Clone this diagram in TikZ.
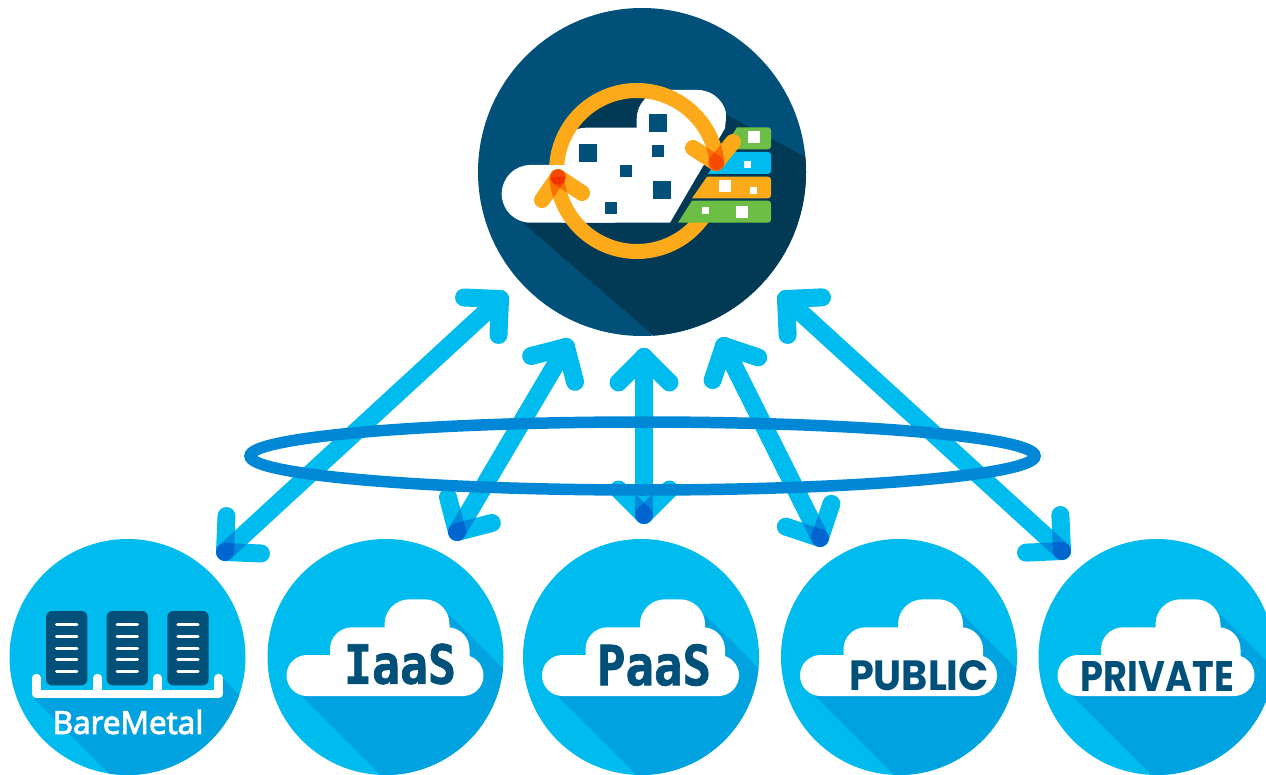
\documentclass[tikz,border=0pt]{standalone}
\usepackage{fontspec}
\usepackage{graphicx}
\setmainfont{Open Sans}
\newfontfamily\slabfont[BoldFeatures={FakeBold=1.5}]{DejaVu Sans Mono}
\newfontfamily\capsfont{Poppins}
\newfontfamily\barefont[FakeBold=3]{Open Sans}
\usetikzlibrary{calc}

\definecolor{hubnavy}{HTML}{00507A}
\definecolor{hubshade}{HTML}{023A56}
\definecolor{discblue}{HTML}{00BCEE}
\definecolor{discshade}{HTML}{00A2E0}
\definecolor{ovalblue}{HTML}{0088D6}
\definecolor{ringamber}{HTML}{FCA91A}
\definecolor{stackgreen}{HTML}{6DBE45}

\tikzset{
  hubdisc/.style={circle,fill=hubnavy,inner sep=0pt,minimum size=328pt},
  sidedisc/.style={circle,fill=discblue,inner sep=0pt,minimum size=236pt},
  linkline/.style={draw=discblue,line width=18pt,line cap=round},
  ringline/.style={draw=ringamber,line width=15pt,blend mode=multiply},
  ringbarb/.style={draw=ringamber,line width=16pt,line cap=round,blend mode=multiply},
  iconword/.style={inner sep=0pt,text=hubnavy},
  cloudicon/.pic={
    \begin{scope}
      \clip (0,0) circle (118pt);
      \fill[discshade] (-84,39) -- (36,159) -- (160,159) -- (160,54) -- (64,-42) -- cycle;
    \end{scope}
    \fill[white,rounded corners=20.5pt] (-99,-2) rectangle (98,39);
    \fill[white,rounded corners=22pt] (-55.5,-29.7) rectangle (84,30);
    \fill[white,rounded corners=25pt] (-1,-57.7) rectangle (64,0);
  },
  serverbox/.pic={
    \fill[hubnavy,rounded corners=6pt] (-20.7,0) rectangle (20.7,74.3);
    \foreach \y in {13.7,25.3,37,48.7,60.3}
      \draw[white,line width=3pt,line cap=round] (-10.2,\y) -- (10.2,\y);
  }
}

\newcommand{\linkbarbs}[2]{%
  \draw[linkline,blend mode=multiply] (#1) -- ($(#1)!36pt!45:(#2)$);
  \draw[linkline,blend mode=multiply] (#1) -- ($(#1)!36pt!-45:(#2)$);
}
\newcommand{\fitword}[3]{\resizebox{#1}{#2}{#3}}

\begin{document}
\begin{tikzpicture}[x=1pt,y=-1pt]
  \useasboundingbox (0,0) rectangle (1266,775);

  % hub
  \node[hubdisc] (hub) at (642,172) {};
  \coordinate (ringc) at (637,171);
  \begin{scope}
    \clip (hub.center) circle (164pt);
    \fill[hubshade] (523,223) -- (660,341) -- (830,341) -- (830,170) -- (727,115) -- cycle;
  \end{scope}
  \fill[hubshade] (ringc) circle (80.5pt);

  % cloud
  \begin{scope}
    \clip (490,80) -- (730,80) -- (725,128) -- (670,222.7) -- (490,222.7) -- cycle;
    \fill[white,rounded corners=28.8pt] (501.7,165) rectangle (640,222.7);
    \fill[white,rounded corners=24pt] (561.7,127.7) rectangle (760,260);
    \fill[white,rounded corners=29pt] (636.7,90) rectangle (726.7,175);
  \end{scope}
  \fill[hubnavy] (649,114) rectangle (667,132);
  \fill[hubnavy] (579,144) rectangle (597,162);
  \fill[hubnavy] (652,145) rectangle (664,157);
  \fill[hubnavy] (620,165) rectangle (632,177);
  \fill[hubnavy] (653,181) rectangle (671,199);
  \fill[hubnavy] (605,202) rectangle (617,214);

  % lower half of the ring
  \coordinate (tipleft) at (558,177);
  \coordinate (tipleftA) at (542,200);
  \coordinate (tipleftB) at (582,193);
  \begin{scope}[transparency group]
    \draw[ringline] ($(ringc)+(184.3:80.5pt)$) arc[start angle=184.3,end angle=330,radius=80.5pt];
    \draw[ringbarb] (tipleft) -- (tipleftA);
    \draw[ringbarb] (tipleft) -- (tipleftB);
    \fill[ringamber,blend mode=multiply] (tipleft) circle (7.5pt);
  \end{scope}

  % stack
  \fill[stackgreen] (737,127.3) [rounded corners=3pt] -- (771,127.3) -- (771,149.3) [sharp corners] -- (723,149.3) -- cycle;
  \fill[discblue] (722,152) [rounded corners=3pt] -- (771,152) -- (771,174) [sharp corners] -- (708,174) -- cycle;
  \fill[ringamber] (707,176.7) [rounded corners=3pt] -- (771,176.7) -- (771,198.3) [sharp corners] -- (692,198.3) -- cycle;
  \fill[stackgreen] (692,200.7) [rounded corners=3pt] -- (771,200.7) -- (771,222.7) [sharp corners] -- (678,222.7) -- cycle;
  \fill[white] (748,131) rectangle (760,143);
  \fill[white] (744,161) rectangle (751,168);
  \fill[white] (719,180) rectangle (731,192);
  \fill[white] (750,187) rectangle (757,194);
  \fill[white] (702,207) rectangle (709,214);
  \fill[white] (736,206) rectangle (748,218);

  % upper half of the ring
  \coordinate (tipright) at (716,163);
  \coordinate (tiprightA) at (693,148);
  \coordinate (tiprightB) at (733,142);
  \begin{scope}[transparency group]
    \begin{scope}
      \clip (540,60) rectangle (637,165) (637,60) rectangle (760,260);
      \draw[ringline,line cap=round] ($(ringc)+(176:80.5pt)$) arc[start angle=176,end angle=5.8,radius=80.5pt];
    \end{scope}
    \draw[ringbarb] (tipright) -- (tiprightA);
    \draw[ringbarb] (tipright) -- (tiprightB);
  \end{scope}

  % lower row
  \node[sidedisc] (bare) at (127.5,657) {};
  \node[sidedisc] (iaas) at (385.5,657) {};
  \node[sidedisc] (paas) at (641,657) {};
  \node[sidedisc] (pub) at (899,657) {};
  \node[sidedisc] (priv) at (1156.5,657) {};

  \pic at (iaas.center) {cloudicon};
  \pic at (paas.center) {cloudicon};
  \pic at (pub.center) {cloudicon};
  \pic at (priv.center) {cloudicon};
  \node[iconword] (iaasword) at (400,664) {\fitword{112pt}{40pt}{\slabfont\bfseries IaaS}};
  \node[iconword] (paasword) at (654,665) {\fitword{114pt}{41pt}{\slabfont\bfseries PaaS}};
  \node[iconword] (pubword) at (919,676) {\fitword{140pt}{30pt}{\capsfont\bfseries PUBLIC}};
  \node[iconword] (privword) at (1157.5,676) {\fitword{153pt}{30pt}{\capsfont\bfseries PRIVATE}};

  % bare metal
  \begin{scope}
    \clip (bare.center) circle (118pt);
    \fill[discshade] (33.5,698) -- (151.5,816) -- (287.5,816) -- (287.5,743) -- (222.5,678) -- (222.5,698) -- cycle;
  \end{scope}
  \pic at (66.7,611) {serverbox};
  \pic at (127.3,611) {serverbox};
  \pic at (188,611) {serverbox};
  \draw[white,line width=8.5pt,line cap=round,line join=round]
    (36.5,678) -- (36.5,693.8) -- (218.5,693.8) -- (218.5,678)
    (97.5,678) -- (97.5,693.8) (157.5,678) -- (157.5,693.8);
  \node[inner sep=0pt,text=white,font=\fontsize{31.5}{31.5}\selectfont\barefont] (bareword) at (128,722) {BareMetal};

  % links
  \coordinate (hubbare) at (500,299);
  \coordinate (barehub) at (225,552);
  \coordinate (hubiaas) at (566,347);
  \coordinate (iaashub) at (457,532);
  \coordinate (hubpaas) at (644,357);
  \coordinate (paashub) at (644,515);
  \coordinate (hubpub) at (724,346);
  \coordinate (pubhub) at (820,538);
  \coordinate (hubpriv) at (786,299);
  \coordinate (privhub) at (1062,551);

  \linkbarbs{hubbare}{barehub}
  \linkbarbs{hubiaas}{iaashub}
  \linkbarbs{hubpaas}{paashub}
  \linkbarbs{hubpub}{pubhub}
  \linkbarbs{hubpriv}{privhub}

  \draw[linkline] (hubbare) -- (barehub);
  \draw[linkline] (hubiaas) -- (iaashub);
  \draw[linkline] (hubpaas) -- (paashub);
  \draw[linkline] (hubpub) -- (pubhub);
  \draw[linkline] (hubpriv) -- (privhub);

  \linkbarbs{barehub}{hubbare}
  \linkbarbs{iaashub}{hubiaas}
  \linkbarbs{paashub}{hubpaas}
  \linkbarbs{pubhub}{hubpub}
  \linkbarbs{privhub}{hubpriv}

  % oval
  \coordinate (ovalc) at (642.5,456);
  \draw[ovalblue,line width=11.5pt] (ovalc) ellipse [x radius=392.5pt,y radius=34pt];
\end{tikzpicture}
\end{document}
